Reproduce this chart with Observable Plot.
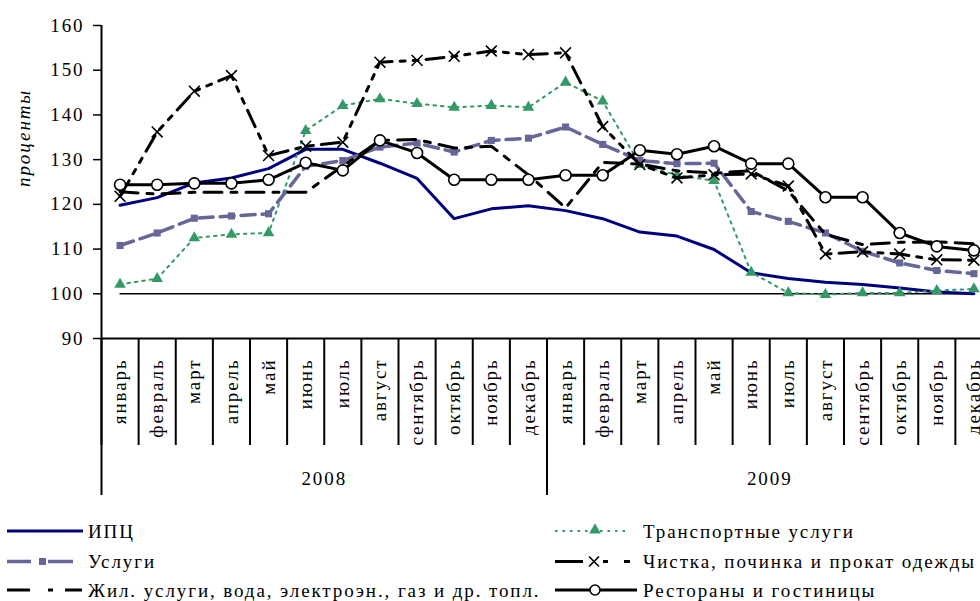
<!DOCTYPE html>
<html><head><meta charset="utf-8">
<script src="https://cdn.jsdelivr.net/npm/d3@7"></script>
<script src="https://cdn.jsdelivr.net/npm/@observablehq/plot@0.6"></script>
<style>
body{margin:0;background:#fff;}
#chart svg, #legend svg{display:block}
</style></head><body><div id="chart"></div><div id="legend"></div>
<script>
const months = ["январь","февраль","март","апрель","май","июнь","июль","август","сентябрь","октябрь","ноябрь","декабрь"];
const years = ["2008","2009"];
const yTicks = [90,100,110,120,130,140,150,160];

const seriesNames = ["ИПЦ","Транспортные услуги","Услуги","Чистка, починка и прокат одежды","Жил. услуги, вода, электроэн., газ и др. топл.","Рестораны и гостиницы"];

const cpi         = [119.8,121.5,124.8,125.9,128.0,132.3,132.3,129.2,125.8,116.8,119.0,119.7,118.6,116.8,113.8,112.9,109.9,104.7,103.4,102.6,102.1,101.3,100.4,100.0];
const transport   = [102.1,103.4,112.5,113.3,113.6,136.5,142.1,143.6,142.5,141.7,142.1,141.7,147.3,143.1,128.9,126.5,125.3,104.8,100.2,99.8,100.2,100.2,100.7,101.1];
const services    = [110.8,113.6,116.9,117.4,117.9,128.5,129.8,132.8,133.7,131.7,134.3,134.8,137.3,133.4,129.8,129.1,129.2,118.4,116.2,113.6,109.5,106.9,105.2,104.5];
const clothing    = [121.8,136.2,145.3,148.8,130.9,133.0,133.9,151.8,152.2,153.1,154.3,153.5,153.9,137.4,128.9,125.9,126.6,126.8,124.1,108.9,109.4,108.9,107.6,107.5];
const housing     = [122.8,122.3,122.7,122.7,122.7,122.7,128.6,134.3,134.5,132.6,133.0,126.6,119.2,129.4,129.0,127.5,127.0,127.5,123.0,113.3,111.0,111.5,111.6,111.2];
const restaurants = [124.4,124.4,124.7,124.7,125.5,129.3,127.6,134.3,131.5,125.5,125.5,125.5,126.5,126.5,132.1,131.2,133.0,129.1,129.1,121.6,121.6,113.6,110.6,109.7];

const periods = years.flatMap(y => months.map(m => ({year: y, month: m})));
periods.forEach((d, i) => d.i = i);
const mk = arr => arr.map((v, i) => ({i, v}));
const monthDividers = d3.range(periods.length + 1).map(i => i - 0.5);
const yearDividers = [-0.5, ...years.map(y => d3.max(periods.filter(p => p.year === y), p => p.i) + 0.5)];
const yearLabels = years.map(y => ({year: y, i: d3.mean(periods.filter(p => p.year === y), p => p.i)}));

const FONT = "Liberation Serif";
const FS = "19px", LS = "1.9px";
const chart = Plot.plot({
  width: 980, height: 505,
  marginLeft: 101, marginRight: -12, marginTop: 25, marginBottom: 167,
  style: {fontFamily: FONT, fontSize: FS, letterSpacing: LS, background: "white", color: "black"},
  x: {type: "linear", domain: [-0.5, periods.length - 0.5]},
  y: {domain: [90, 160]},
  marks: [
    Plot.axisY({ticks: yTicks, tickSize: 8, tickPadding: 9, strokeWidth: 1.5, label: null, tickFormat: d => String(d)}),
    Plot.axisX({ticks: monthDividers, tickSize: 107, tickFormat: () => "", strokeWidth: 2, label: null}),
    Plot.axisX({ticks: yearDividers, tickSize: 157, tickFormat: () => "", strokeWidth: 2, label: null}),
    Plot.ruleX([-0.5], {strokeWidth: 2}),
    Plot.ruleY([90], {strokeWidth: 2}),
    Plot.ruleY([100], {x1: 0, x2: periods.length - 1, strokeWidth: 1.5}),
    Plot.text(periods, {x: "i", text: "month", frameAnchor: "bottom", dy: 20, rotate: -90, textAnchor: "end", lineAnchor: "middle"}),
    Plot.text(yearLabels, {x: "i", text: "year", frameAnchor: "bottom", dy: 140, lineAnchor: "middle"}),
    Plot.text(["проценты"], {frameAnchor: "left", dx: -78, dy: 5, rotate: -90, fontStyle: "italic", lineAnchor: "middle"}),
    Plot.line(mk(cpi), {x: "i", y: "v", stroke: "#000080", strokeWidth: 3}),
    Plot.line(mk(transport), {x: "i", y: "v", stroke: "#339966", strokeWidth: 2, strokeDasharray: "2.5,5"}),
    Plot.dot(mk(transport), {x: "i", y: "v", symbol: "triangle", r: 4.3, fill: "#339966"}),
    Plot.line(mk(services), {x: "i", y: "v", stroke: "#666699", strokeWidth: 3.5, strokeDasharray: "14,7"}),
    Plot.dot(mk(services), {x: "i", y: "v", symbol: "square", r: 4, fill: "#666699"}),
    Plot.line(mk(clothing), {x: "i", y: "v", stroke: "black", strokeWidth: 3, strokeDasharray: "18,8,5,8,5,8"}),
    Plot.dot(mk(clothing), {x: "i", y: "v", symbol: "times", r: 5, stroke: "black", strokeWidth: 1.6}),
    Plot.line(mk(housing), {x: "i", y: "v", stroke: "black", strokeWidth: 3, strokeDasharray: "18,9,6,9"}),
    Plot.line(mk(restaurants), {x: "i", y: "v", stroke: "black", strokeWidth: 3}),
    Plot.dot(mk(restaurants), {x: "i", y: "v", r: 5.5, fill: "white", stroke: "black", strokeWidth: 1.6})
  ]
});
document.getElementById("chart").appendChild(chart);

// Legend (below the chart)
const L = d3.select("#legend").append("svg").attr("width", 980).attr("height", 96)
  .style("font-family", FONT).style("font-size", FS).style("letter-spacing", LS);
const rowsY = [26, 56.5, 85];
const cols = [{x0: 7, tx: 88}, {x0: 555, tx: 643}];
const items = [
  {name: seriesNames[0], col: 0, row: 0},
  {name: seriesNames[1], col: 1, row: 0},
  {name: seriesNames[2], col: 0, row: 1},
  {name: seriesNames[3], col: 1, row: 1},
  {name: seriesNames[4], col: 0, row: 2},
  {name: seriesNames[5], col: 1, row: 2}
];
function seg(g, a, b, y, color, w, dash) {
  const l = g.append("line").attr("x1", a).attr("x2", b).attr("y1", y).attr("y2", y)
    .attr("stroke", color).attr("stroke-width", w);
  if (dash) l.attr("stroke-dasharray", dash);
}
items.forEach((it, k) => {
  const g = L.append("g");
  const y = rowsY[it.row], x0 = cols[it.col].x0;
  if (k === 0) seg(g, x0, x0 + 76, y, "#000080", 3);
  if (k === 1) {
    seg(g, x0, x0 + 75, y, "#339966", 2, "2.5,5");
    g.append("path").attr("d", d3.symbol(d3.symbolTriangle, 60)()).attr("transform", `translate(${x0 + 40},${y - 1})`).attr("fill", "#339966");
  }
  if (k === 2) {
    seg(g, x0, x0 + 24, y, "#666699", 3.5);
    g.append("rect").attr("x", x0 + 32).attr("y", y - 3.5).attr("width", 7).attr("height", 7).attr("fill", "#666699");
    seg(g, x0 + 41, x0 + 66, y, "#666699", 3.5);
  }
  if (k === 3) {
    seg(g, x0, x0 + 28, y, "black", 3);
    g.append("path").attr("d", `M${x0+34},${y-5}L${x0+44},${y+5}M${x0+34},${y+5}L${x0+44},${y-5}`).attr("stroke", "black").attr("stroke-width", 1.6);
    seg(g, x0 + 48, x0 + 53, y, "black", 3);
    seg(g, x0 + 69, x0 + 75, y, "black", 3);
  }
  if (k === 4) {
    seg(g, x0, x0 + 23, y, "black", 3);
    seg(g, x0 + 41, x0 + 46, y, "black", 3);
    seg(g, x0 + 58, x0 + 75, y, "black", 3);
  }
  if (k === 5) {
    seg(g, x0, x0 + 82, y, "black", 3);
    g.append("circle").attr("cx", x0 + 40).attr("cy", y).attr("r", 5).attr("fill", "white").attr("stroke", "black").attr("stroke-width", 1.6);
  }
  g.append("text").attr("x", cols[it.col].tx).attr("y", y).attr("dy", "0.35em").text(it.name);
});
</script>
</body></html>
